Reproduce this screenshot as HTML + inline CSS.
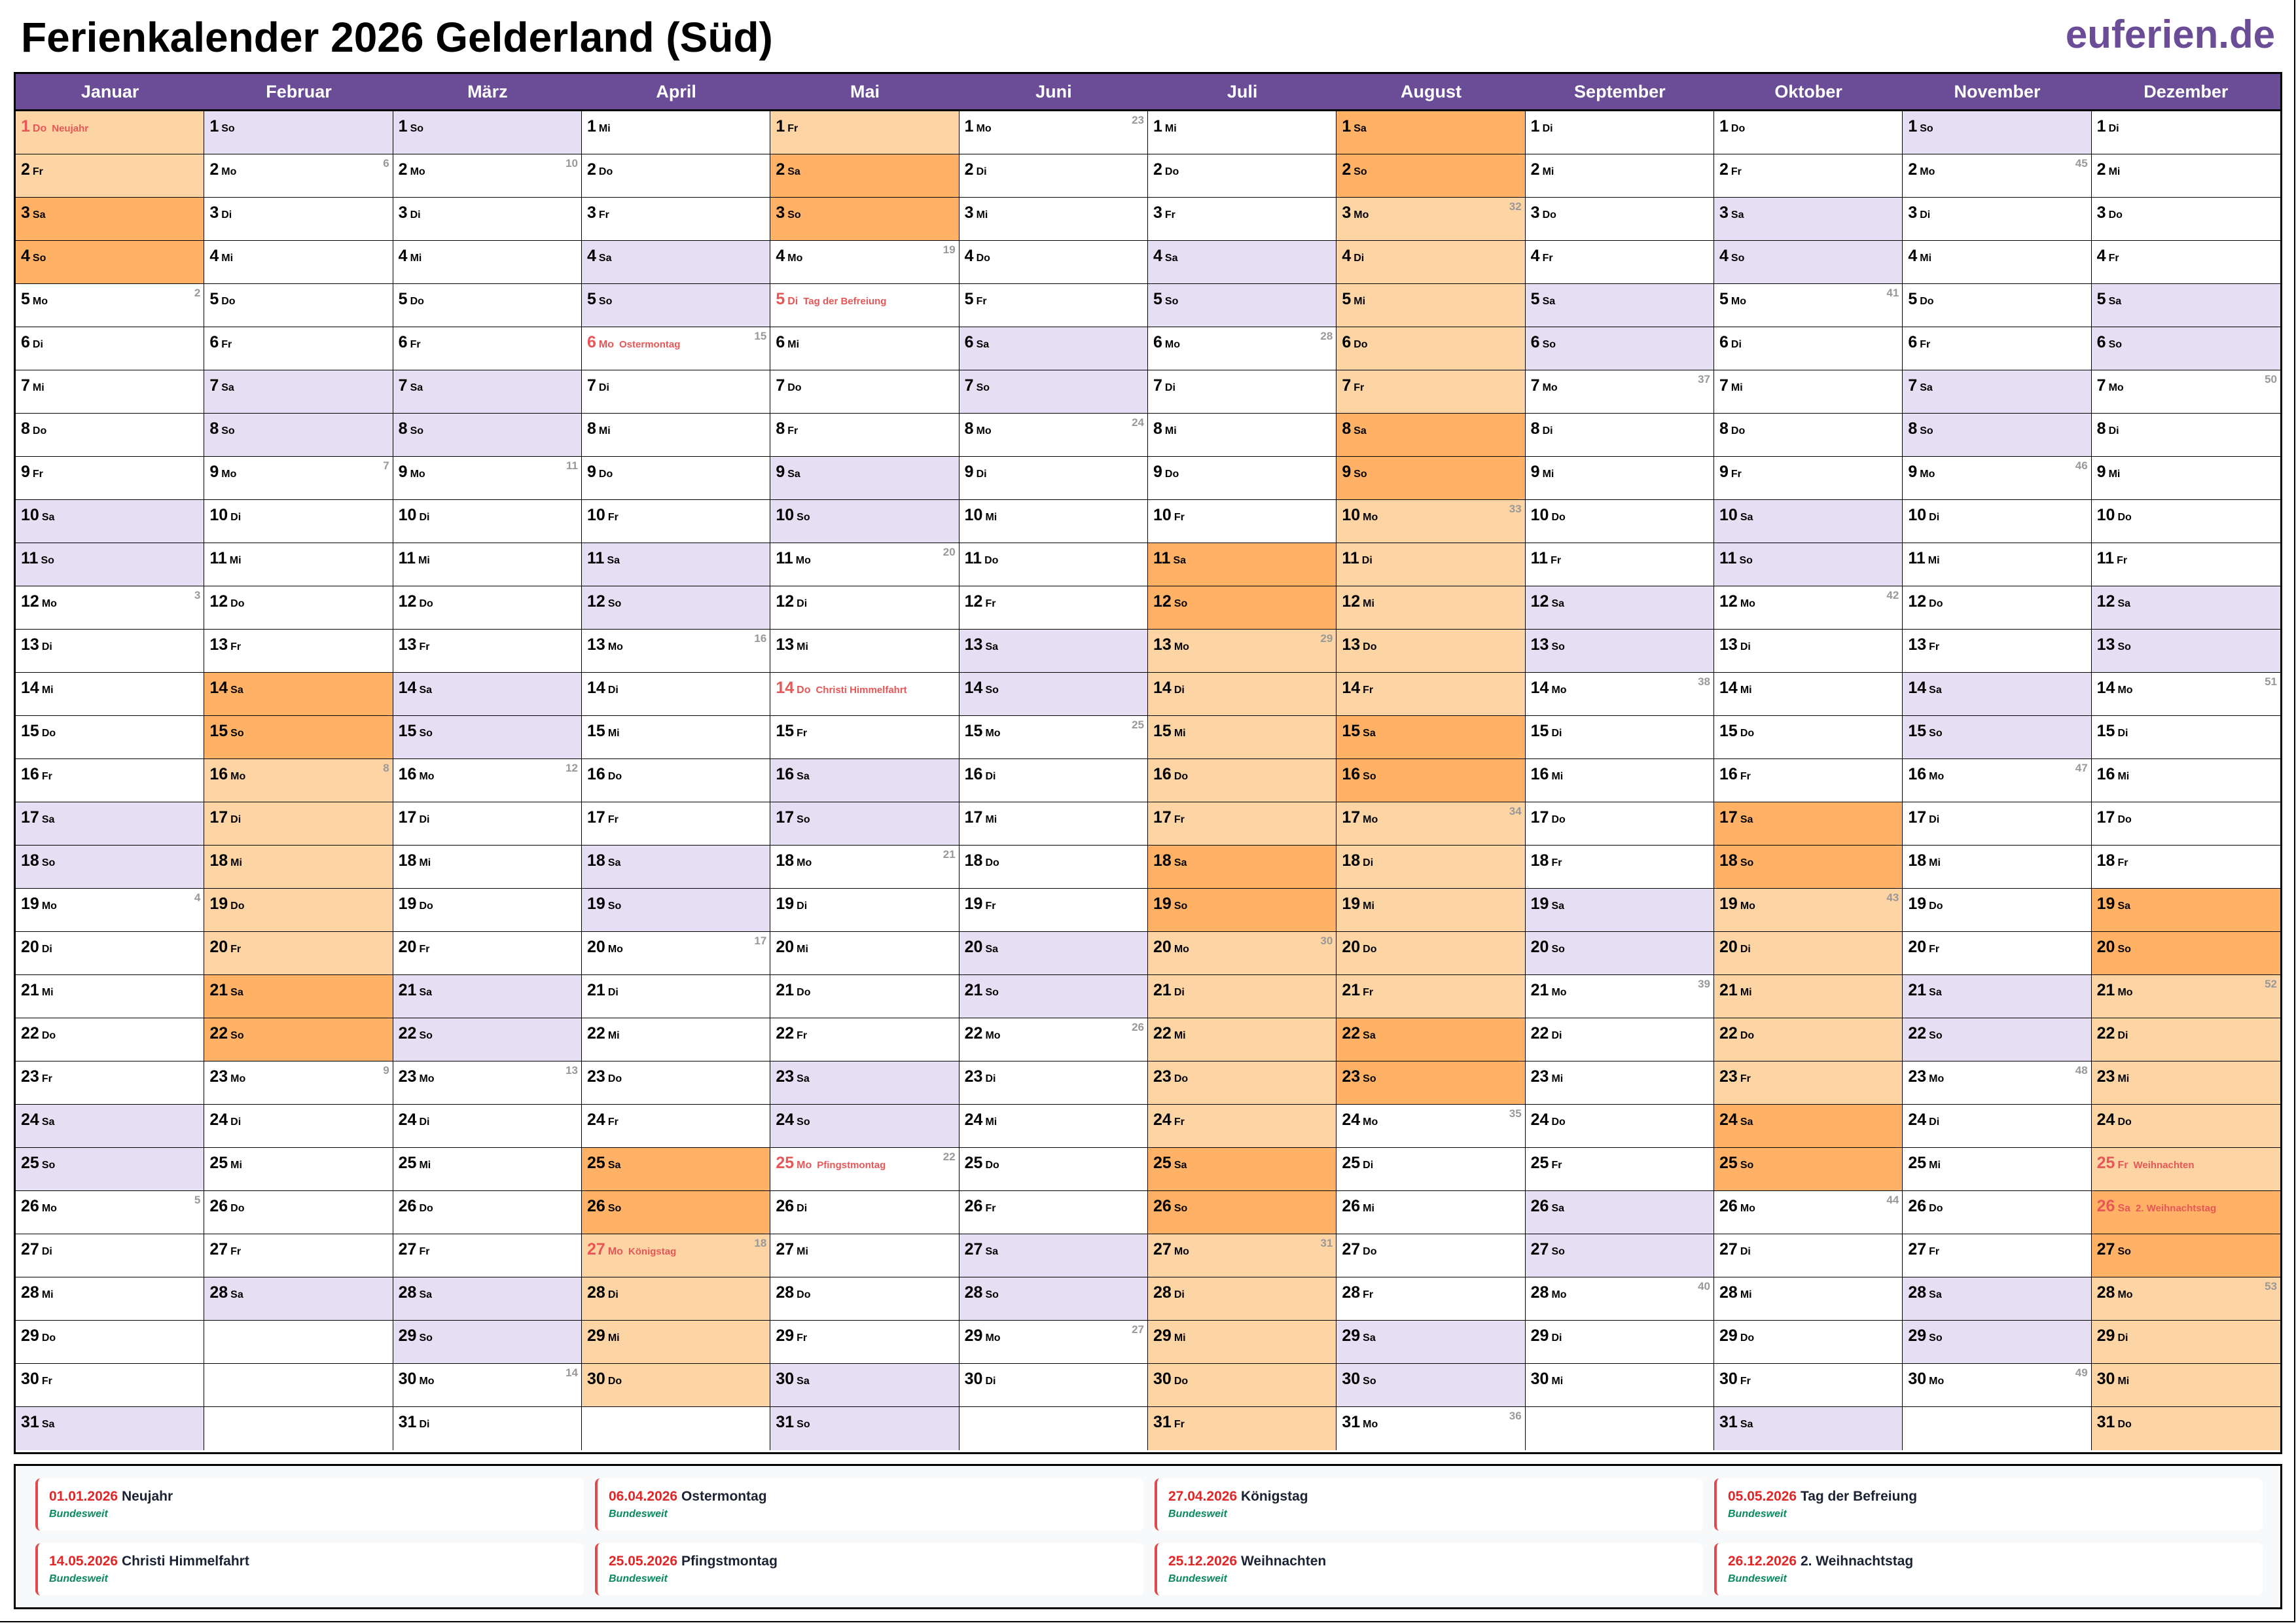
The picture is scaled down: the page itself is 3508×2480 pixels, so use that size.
<!DOCTYPE html>
<html><head><meta charset="utf-8"><style>
*{margin:0;padding:0;box-sizing:border-box}
body{width:3508px;height:2480px;background:#fff;font-family:"Liberation Sans",Arial,sans-serif;position:relative;overflow:hidden}
#frame{position:absolute;left:0;top:0;width:3507px;height:2479px;border-right:2px solid #000;border-bottom:2px solid #000}
h1{position:absolute;left:32px;top:20px;font-size:64px;font-weight:bold;color:#000;letter-spacing:0}
#logo{position:absolute;right:32px;top:18px;font-size:60px;font-weight:bold;color:#6b4c96}
#tbl{position:absolute;left:21px;top:110px;width:3466px;height:2112px;border:3px solid #000}
#hd{display:grid;grid-template-columns:repeat(12,1fr);height:57px;background:#6b4c96;border-bottom:3px solid #000}
#hd div{color:#fff;font-weight:bold;font-size:27px;text-align:center;line-height:55px}
#g{display:grid;grid-template-columns:repeat(12,1fr);grid-template-rows:repeat(31,1fr);grid-auto-flow:column;height:2046px}
#g i{font-style:normal;position:relative;border-right:1.5px solid #000;border-bottom:1.5px solid #000;font-weight:bold;font-size:16px;padding:9px 0 0 8px;white-space:nowrap;color:#000;background:#fff}
#g i:nth-child(31n){border-bottom:none}
#g i:nth-last-child(-n+31){border-right:none}
#g b{font-size:25px;margin-right:4px}
#g i.w{background:#e6dff3}
#g i.o{background:#fdd4a4}
#g i.d{background:#ffb266}
#g i.h{color:#e85757}
#g s{text-decoration:none;font-size:15px;margin-left:8px}
#g u{text-decoration:none;position:absolute;right:5px;top:4px;font-size:17px;color:#999}
#ft{position:absolute;left:21px;top:2237px;width:3466px;height:222px;border:3px solid #000;background:#f8f9fb}
.c{position:absolute;width:838px;height:80px;background:#fff;border-left:4px solid #e04a4a;border-radius:8px;padding:16px 0 0 17px}
.c p{font-size:21px;font-weight:bold;color:#1a2233}
.c p span{color:#e02626}
.c em{display:block;font-size:16px;font-weight:bold;color:#0a8a5e;margin-top:6px}
</style></head><body>
<div id="frame"></div>
<h1>Ferienkalender 2026 Gelderland (Süd)</h1>
<div id="logo">euferien.de</div>
<div id="tbl">
<div id="hd"><div>Januar</div><div>Februar</div><div>März</div><div>April</div><div>Mai</div><div>Juni</div><div>Juli</div><div>August</div><div>September</div><div>Oktober</div><div>November</div><div>Dezember</div></div>
<div id="g">
<i class="o h"><b>1</b>Do<s>Neujahr</s></i><i class="o"><b>2</b>Fr</i><i class="d"><b>3</b>Sa</i><i class="d"><b>4</b>So</i><i><b>5</b>Mo<u>2</u></i><i><b>6</b>Di</i><i><b>7</b>Mi</i><i><b>8</b>Do</i><i><b>9</b>Fr</i><i class="w"><b>10</b>Sa</i><i class="w"><b>11</b>So</i><i><b>12</b>Mo<u>3</u></i><i><b>13</b>Di</i><i><b>14</b>Mi</i><i><b>15</b>Do</i><i><b>16</b>Fr</i><i class="w"><b>17</b>Sa</i><i class="w"><b>18</b>So</i><i><b>19</b>Mo<u>4</u></i><i><b>20</b>Di</i><i><b>21</b>Mi</i><i><b>22</b>Do</i><i><b>23</b>Fr</i><i class="w"><b>24</b>Sa</i><i class="w"><b>25</b>So</i><i><b>26</b>Mo<u>5</u></i><i><b>27</b>Di</i><i><b>28</b>Mi</i><i><b>29</b>Do</i><i><b>30</b>Fr</i><i class="w"><b>31</b>Sa</i>
<i class="w"><b>1</b>So</i><i><b>2</b>Mo<u>6</u></i><i><b>3</b>Di</i><i><b>4</b>Mi</i><i><b>5</b>Do</i><i><b>6</b>Fr</i><i class="w"><b>7</b>Sa</i><i class="w"><b>8</b>So</i><i><b>9</b>Mo<u>7</u></i><i><b>10</b>Di</i><i><b>11</b>Mi</i><i><b>12</b>Do</i><i><b>13</b>Fr</i><i class="d"><b>14</b>Sa</i><i class="d"><b>15</b>So</i><i class="o"><b>16</b>Mo<u>8</u></i><i class="o"><b>17</b>Di</i><i class="o"><b>18</b>Mi</i><i class="o"><b>19</b>Do</i><i class="o"><b>20</b>Fr</i><i class="d"><b>21</b>Sa</i><i class="d"><b>22</b>So</i><i><b>23</b>Mo<u>9</u></i><i><b>24</b>Di</i><i><b>25</b>Mi</i><i><b>26</b>Do</i><i><b>27</b>Fr</i><i class="w"><b>28</b>Sa</i><i></i><i></i><i></i>
<i class="w"><b>1</b>So</i><i><b>2</b>Mo<u>10</u></i><i><b>3</b>Di</i><i><b>4</b>Mi</i><i><b>5</b>Do</i><i><b>6</b>Fr</i><i class="w"><b>7</b>Sa</i><i class="w"><b>8</b>So</i><i><b>9</b>Mo<u>11</u></i><i><b>10</b>Di</i><i><b>11</b>Mi</i><i><b>12</b>Do</i><i><b>13</b>Fr</i><i class="w"><b>14</b>Sa</i><i class="w"><b>15</b>So</i><i><b>16</b>Mo<u>12</u></i><i><b>17</b>Di</i><i><b>18</b>Mi</i><i><b>19</b>Do</i><i><b>20</b>Fr</i><i class="w"><b>21</b>Sa</i><i class="w"><b>22</b>So</i><i><b>23</b>Mo<u>13</u></i><i><b>24</b>Di</i><i><b>25</b>Mi</i><i><b>26</b>Do</i><i><b>27</b>Fr</i><i class="w"><b>28</b>Sa</i><i class="w"><b>29</b>So</i><i><b>30</b>Mo<u>14</u></i><i><b>31</b>Di</i>
<i><b>1</b>Mi</i><i><b>2</b>Do</i><i><b>3</b>Fr</i><i class="w"><b>4</b>Sa</i><i class="w"><b>5</b>So</i><i class="h"><b>6</b>Mo<s>Ostermontag</s><u>15</u></i><i><b>7</b>Di</i><i><b>8</b>Mi</i><i><b>9</b>Do</i><i><b>10</b>Fr</i><i class="w"><b>11</b>Sa</i><i class="w"><b>12</b>So</i><i><b>13</b>Mo<u>16</u></i><i><b>14</b>Di</i><i><b>15</b>Mi</i><i><b>16</b>Do</i><i><b>17</b>Fr</i><i class="w"><b>18</b>Sa</i><i class="w"><b>19</b>So</i><i><b>20</b>Mo<u>17</u></i><i><b>21</b>Di</i><i><b>22</b>Mi</i><i><b>23</b>Do</i><i><b>24</b>Fr</i><i class="d"><b>25</b>Sa</i><i class="d"><b>26</b>So</i><i class="o h"><b>27</b>Mo<s>Königstag</s><u>18</u></i><i class="o"><b>28</b>Di</i><i class="o"><b>29</b>Mi</i><i class="o"><b>30</b>Do</i><i></i>
<i class="o"><b>1</b>Fr</i><i class="d"><b>2</b>Sa</i><i class="d"><b>3</b>So</i><i><b>4</b>Mo<u>19</u></i><i class="h"><b>5</b>Di<s>Tag der Befreiung</s></i><i><b>6</b>Mi</i><i><b>7</b>Do</i><i><b>8</b>Fr</i><i class="w"><b>9</b>Sa</i><i class="w"><b>10</b>So</i><i><b>11</b>Mo<u>20</u></i><i><b>12</b>Di</i><i><b>13</b>Mi</i><i class="h"><b>14</b>Do<s>Christi Himmelfahrt</s></i><i><b>15</b>Fr</i><i class="w"><b>16</b>Sa</i><i class="w"><b>17</b>So</i><i><b>18</b>Mo<u>21</u></i><i><b>19</b>Di</i><i><b>20</b>Mi</i><i><b>21</b>Do</i><i><b>22</b>Fr</i><i class="w"><b>23</b>Sa</i><i class="w"><b>24</b>So</i><i class="h"><b>25</b>Mo<s>Pfingstmontag</s><u>22</u></i><i><b>26</b>Di</i><i><b>27</b>Mi</i><i><b>28</b>Do</i><i><b>29</b>Fr</i><i class="w"><b>30</b>Sa</i><i class="w"><b>31</b>So</i>
<i><b>1</b>Mo<u>23</u></i><i><b>2</b>Di</i><i><b>3</b>Mi</i><i><b>4</b>Do</i><i><b>5</b>Fr</i><i class="w"><b>6</b>Sa</i><i class="w"><b>7</b>So</i><i><b>8</b>Mo<u>24</u></i><i><b>9</b>Di</i><i><b>10</b>Mi</i><i><b>11</b>Do</i><i><b>12</b>Fr</i><i class="w"><b>13</b>Sa</i><i class="w"><b>14</b>So</i><i><b>15</b>Mo<u>25</u></i><i><b>16</b>Di</i><i><b>17</b>Mi</i><i><b>18</b>Do</i><i><b>19</b>Fr</i><i class="w"><b>20</b>Sa</i><i class="w"><b>21</b>So</i><i><b>22</b>Mo<u>26</u></i><i><b>23</b>Di</i><i><b>24</b>Mi</i><i><b>25</b>Do</i><i><b>26</b>Fr</i><i class="w"><b>27</b>Sa</i><i class="w"><b>28</b>So</i><i><b>29</b>Mo<u>27</u></i><i><b>30</b>Di</i><i></i>
<i><b>1</b>Mi</i><i><b>2</b>Do</i><i><b>3</b>Fr</i><i class="w"><b>4</b>Sa</i><i class="w"><b>5</b>So</i><i><b>6</b>Mo<u>28</u></i><i><b>7</b>Di</i><i><b>8</b>Mi</i><i><b>9</b>Do</i><i><b>10</b>Fr</i><i class="d"><b>11</b>Sa</i><i class="d"><b>12</b>So</i><i class="o"><b>13</b>Mo<u>29</u></i><i class="o"><b>14</b>Di</i><i class="o"><b>15</b>Mi</i><i class="o"><b>16</b>Do</i><i class="o"><b>17</b>Fr</i><i class="d"><b>18</b>Sa</i><i class="d"><b>19</b>So</i><i class="o"><b>20</b>Mo<u>30</u></i><i class="o"><b>21</b>Di</i><i class="o"><b>22</b>Mi</i><i class="o"><b>23</b>Do</i><i class="o"><b>24</b>Fr</i><i class="d"><b>25</b>Sa</i><i class="d"><b>26</b>So</i><i class="o"><b>27</b>Mo<u>31</u></i><i class="o"><b>28</b>Di</i><i class="o"><b>29</b>Mi</i><i class="o"><b>30</b>Do</i><i class="o"><b>31</b>Fr</i>
<i class="d"><b>1</b>Sa</i><i class="d"><b>2</b>So</i><i class="o"><b>3</b>Mo<u>32</u></i><i class="o"><b>4</b>Di</i><i class="o"><b>5</b>Mi</i><i class="o"><b>6</b>Do</i><i class="o"><b>7</b>Fr</i><i class="d"><b>8</b>Sa</i><i class="d"><b>9</b>So</i><i class="o"><b>10</b>Mo<u>33</u></i><i class="o"><b>11</b>Di</i><i class="o"><b>12</b>Mi</i><i class="o"><b>13</b>Do</i><i class="o"><b>14</b>Fr</i><i class="d"><b>15</b>Sa</i><i class="d"><b>16</b>So</i><i class="o"><b>17</b>Mo<u>34</u></i><i class="o"><b>18</b>Di</i><i class="o"><b>19</b>Mi</i><i class="o"><b>20</b>Do</i><i class="o"><b>21</b>Fr</i><i class="d"><b>22</b>Sa</i><i class="d"><b>23</b>So</i><i><b>24</b>Mo<u>35</u></i><i><b>25</b>Di</i><i><b>26</b>Mi</i><i><b>27</b>Do</i><i><b>28</b>Fr</i><i class="w"><b>29</b>Sa</i><i class="w"><b>30</b>So</i><i><b>31</b>Mo<u>36</u></i>
<i><b>1</b>Di</i><i><b>2</b>Mi</i><i><b>3</b>Do</i><i><b>4</b>Fr</i><i class="w"><b>5</b>Sa</i><i class="w"><b>6</b>So</i><i><b>7</b>Mo<u>37</u></i><i><b>8</b>Di</i><i><b>9</b>Mi</i><i><b>10</b>Do</i><i><b>11</b>Fr</i><i class="w"><b>12</b>Sa</i><i class="w"><b>13</b>So</i><i><b>14</b>Mo<u>38</u></i><i><b>15</b>Di</i><i><b>16</b>Mi</i><i><b>17</b>Do</i><i><b>18</b>Fr</i><i class="w"><b>19</b>Sa</i><i class="w"><b>20</b>So</i><i><b>21</b>Mo<u>39</u></i><i><b>22</b>Di</i><i><b>23</b>Mi</i><i><b>24</b>Do</i><i><b>25</b>Fr</i><i class="w"><b>26</b>Sa</i><i class="w"><b>27</b>So</i><i><b>28</b>Mo<u>40</u></i><i><b>29</b>Di</i><i><b>30</b>Mi</i><i></i>
<i><b>1</b>Do</i><i><b>2</b>Fr</i><i class="w"><b>3</b>Sa</i><i class="w"><b>4</b>So</i><i><b>5</b>Mo<u>41</u></i><i><b>6</b>Di</i><i><b>7</b>Mi</i><i><b>8</b>Do</i><i><b>9</b>Fr</i><i class="w"><b>10</b>Sa</i><i class="w"><b>11</b>So</i><i><b>12</b>Mo<u>42</u></i><i><b>13</b>Di</i><i><b>14</b>Mi</i><i><b>15</b>Do</i><i><b>16</b>Fr</i><i class="d"><b>17</b>Sa</i><i class="d"><b>18</b>So</i><i class="o"><b>19</b>Mo<u>43</u></i><i class="o"><b>20</b>Di</i><i class="o"><b>21</b>Mi</i><i class="o"><b>22</b>Do</i><i class="o"><b>23</b>Fr</i><i class="d"><b>24</b>Sa</i><i class="d"><b>25</b>So</i><i><b>26</b>Mo<u>44</u></i><i><b>27</b>Di</i><i><b>28</b>Mi</i><i><b>29</b>Do</i><i><b>30</b>Fr</i><i class="w"><b>31</b>Sa</i>
<i class="w"><b>1</b>So</i><i><b>2</b>Mo<u>45</u></i><i><b>3</b>Di</i><i><b>4</b>Mi</i><i><b>5</b>Do</i><i><b>6</b>Fr</i><i class="w"><b>7</b>Sa</i><i class="w"><b>8</b>So</i><i><b>9</b>Mo<u>46</u></i><i><b>10</b>Di</i><i><b>11</b>Mi</i><i><b>12</b>Do</i><i><b>13</b>Fr</i><i class="w"><b>14</b>Sa</i><i class="w"><b>15</b>So</i><i><b>16</b>Mo<u>47</u></i><i><b>17</b>Di</i><i><b>18</b>Mi</i><i><b>19</b>Do</i><i><b>20</b>Fr</i><i class="w"><b>21</b>Sa</i><i class="w"><b>22</b>So</i><i><b>23</b>Mo<u>48</u></i><i><b>24</b>Di</i><i><b>25</b>Mi</i><i><b>26</b>Do</i><i><b>27</b>Fr</i><i class="w"><b>28</b>Sa</i><i class="w"><b>29</b>So</i><i><b>30</b>Mo<u>49</u></i><i></i>
<i><b>1</b>Di</i><i><b>2</b>Mi</i><i><b>3</b>Do</i><i><b>4</b>Fr</i><i class="w"><b>5</b>Sa</i><i class="w"><b>6</b>So</i><i><b>7</b>Mo<u>50</u></i><i><b>8</b>Di</i><i><b>9</b>Mi</i><i><b>10</b>Do</i><i><b>11</b>Fr</i><i class="w"><b>12</b>Sa</i><i class="w"><b>13</b>So</i><i><b>14</b>Mo<u>51</u></i><i><b>15</b>Di</i><i><b>16</b>Mi</i><i><b>17</b>Do</i><i><b>18</b>Fr</i><i class="d"><b>19</b>Sa</i><i class="d"><b>20</b>So</i><i class="o"><b>21</b>Mo<u>52</u></i><i class="o"><b>22</b>Di</i><i class="o"><b>23</b>Mi</i><i class="o"><b>24</b>Do</i><i class="o h"><b>25</b>Fr<s>Weihnachten</s></i><i class="d h"><b>26</b>Sa<s>2. Weihnachtstag</s></i><i class="d"><b>27</b>So</i><i class="o"><b>28</b>Mo<u>53</u></i><i class="o"><b>29</b>Di</i><i class="o"><b>30</b>Mi</i><i class="o"><b>31</b>Do</i>
</div>
</div>
<div id="ft">
<div class="c" style="left:30px;top:19px"><p><span>01.01.2026</span> Neujahr</p><em>Bundesweit</em></div>
<div class="c" style="left:885px;top:19px"><p><span>06.04.2026</span> Ostermontag</p><em>Bundesweit</em></div>
<div class="c" style="left:1740px;top:19px"><p><span>27.04.2026</span> Königstag</p><em>Bundesweit</em></div>
<div class="c" style="left:2595px;top:19px"><p><span>05.05.2026</span> Tag der Befreiung</p><em>Bundesweit</em></div>
<div class="c" style="left:30px;top:118px"><p><span>14.05.2026</span> Christi Himmelfahrt</p><em>Bundesweit</em></div>
<div class="c" style="left:885px;top:118px"><p><span>25.05.2026</span> Pfingstmontag</p><em>Bundesweit</em></div>
<div class="c" style="left:1740px;top:118px"><p><span>25.12.2026</span> Weihnachten</p><em>Bundesweit</em></div>
<div class="c" style="left:2595px;top:118px"><p><span>26.12.2026</span> 2. Weihnachtstag</p><em>Bundesweit</em></div>
</div>
</body></html>
